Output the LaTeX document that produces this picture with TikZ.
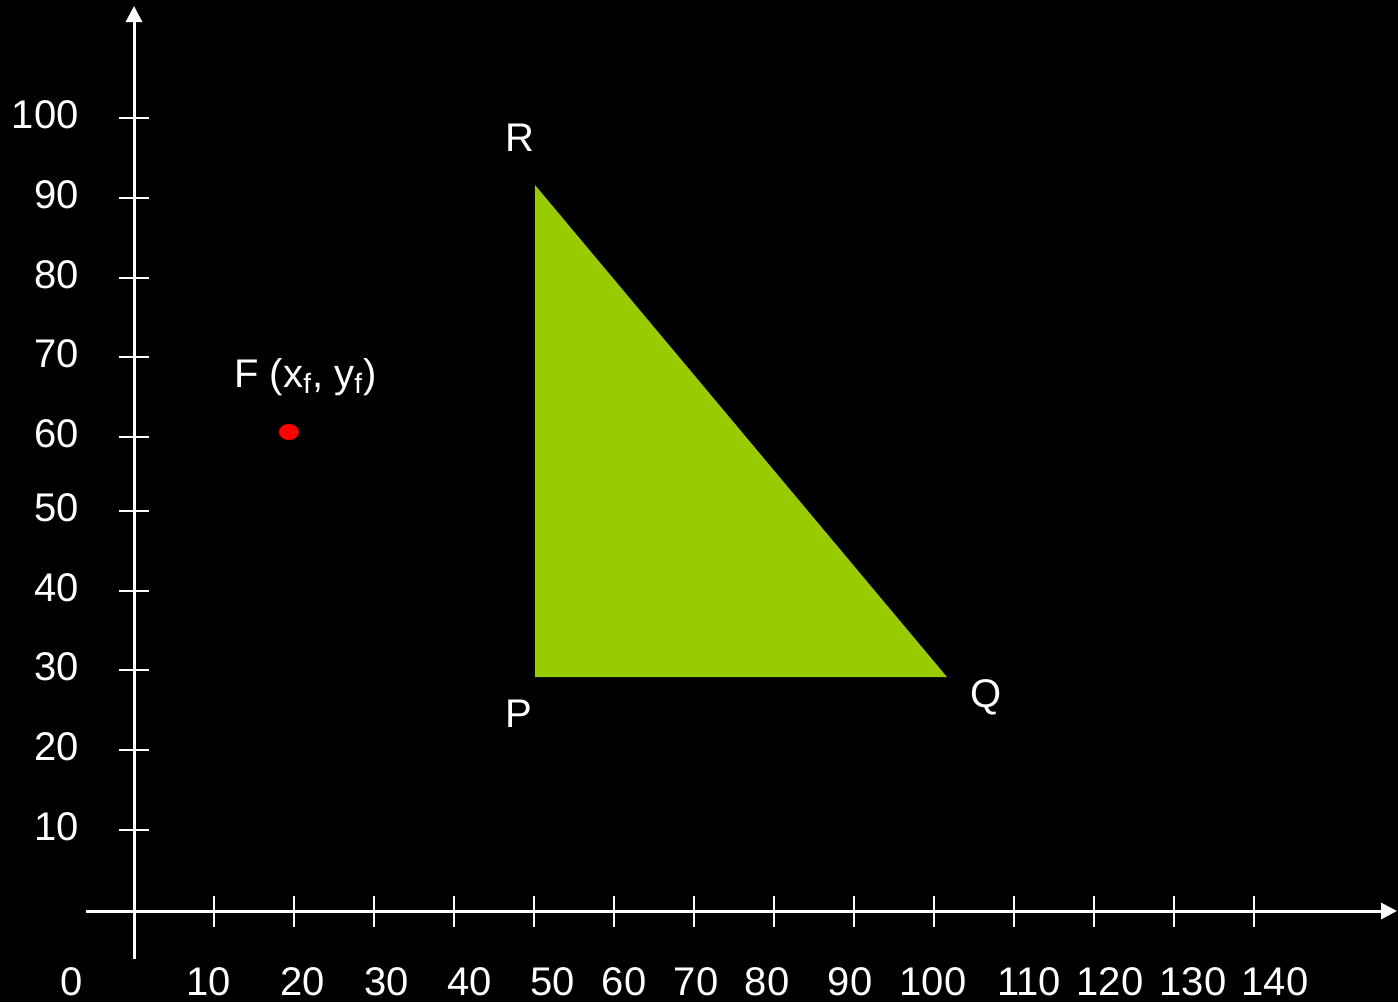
\documentclass[tikz,border=0pt]{standalone}
\usepackage{fontspec}
\setmainfont{Liberation Sans}
\usetikzlibrary{arrows.meta}
\definecolor{trigreen}{HTML}{99CC00}

\begin{document}
\begin{tikzpicture}[x=0.5pt, y=-0.5pt,
    every node/.style={text=white, inner sep=0pt, font=\fontsize{20}{24}\selectfont},
    axis/.style={white, line width=1.5pt, -{Triangle[length=8pt, width=8pt]}},
    tick/.style={white, line width=1.2pt}]
    % Background and frame
    \fill[black] (0,0) rectangle (1398,1002);
    \useasboundingbox (0,0) rectangle (1398,1002);

    % Axes
    \draw[axis] (86,911) -- (1397,911);
    \draw[axis] (134,959) -- (134,6);

    % Ticks
    \foreach \x in {214,294,...,1254}
        \draw[tick] (\x,896) -- (\x,927);
    \foreach \y in {118,198,278,357,437,511,591,670,750,830}
        \draw[tick] (119,\y) -- (149,\y);

    % Axis labels
    \node[anchor=base] (x0) at (72,995) {0};
    \foreach \x/\lbl in {209/10, 303/20, 387/30, 470/40, 553/50, 624/60, 696/70,
                         767/80, 850/90, 933/100, 1029/110, 1110/120, 1193/130, 1275/140}
        \node[anchor=base] (x\lbl) at (\x,995) {\lbl};
    \foreach \y/\lbl in {118/100, 198/90, 278/80, 357/70, 437/60, 511/50, 591/40,
                         670/30, 750/20, 830/10}
        \node[anchor=base east] (y\lbl) at (79,\y+10) {\lbl};

    % Triangle PQR
    \coordinate (P) at (535,677);
    \coordinate (Q) at (947,677);
    \coordinate (R) at (535,185);
    \fill[trigreen] (P) -- (Q) -- (R) -- cycle;

    \node (labR) at (520,138) {R};
    \node (labP) at (519,714) {P};
    \node (labQ) at (986,697) {Q};

    % Point F
    \coordinate (F) at (289,432);
    \fill[red] (F) ellipse [x radius=5pt, y radius=4pt];
    \node[anchor=base west] (labF) at (234,387) {F (x\textsubscript{f}, y\textsubscript{f})};
\end{tikzpicture}
\end{document}
